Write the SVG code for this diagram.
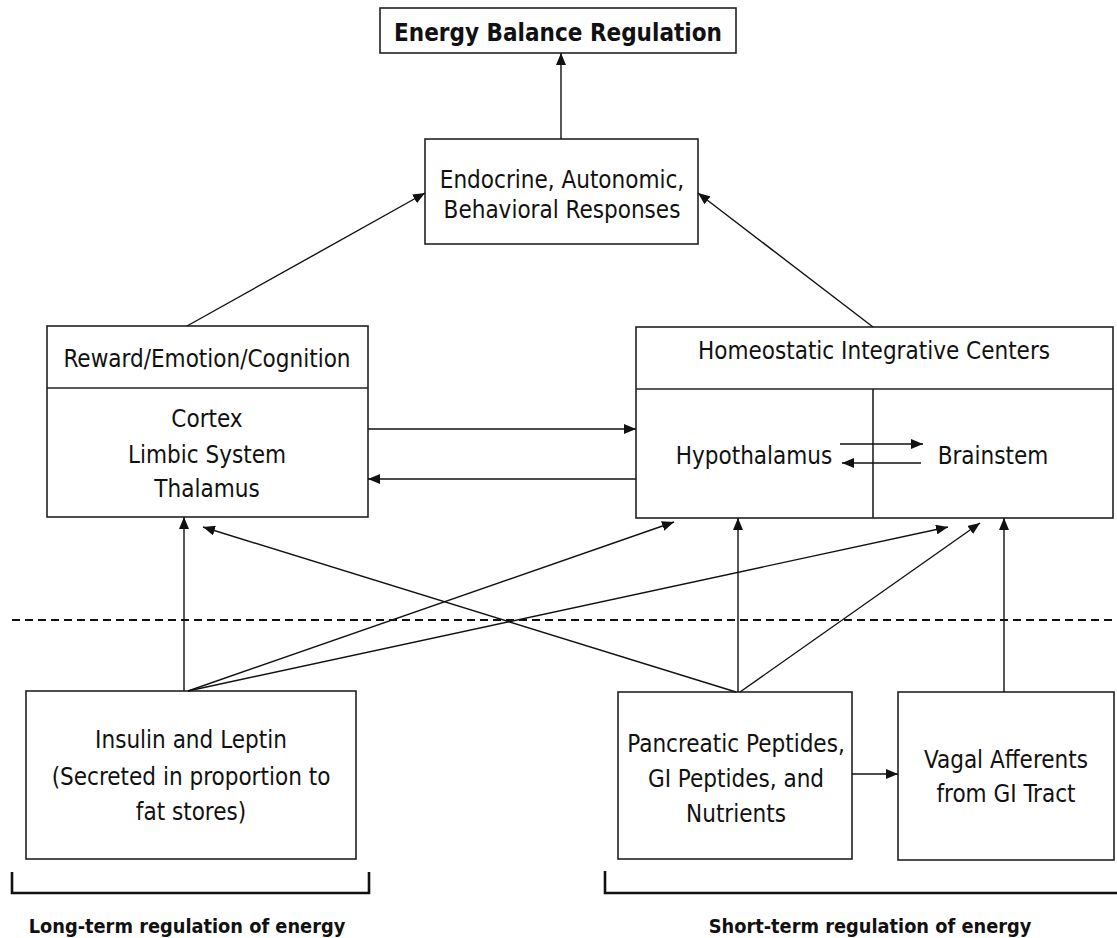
<svg xmlns="http://www.w3.org/2000/svg" width="1117" height="938" viewBox="0 0 1117 938">
<style>
.box{fill:#fff;stroke:#222;stroke-width:1.6}
.div{stroke:#222;stroke-width:1.6;fill:none}
.t{font-family:"DejaVu Sans Condensed","DejaVu Sans",Verdana,sans-serif;font-stretch:condensed;font-size:24px;fill:#111;text-anchor:middle}
.b{font-family:"DejaVu Sans Condensed","DejaVu Sans",Verdana,sans-serif;font-stretch:condensed;font-weight:bold;fill:#111;text-anchor:middle}
.c{stroke:#111;stroke-width:1.4;fill:none;marker-end:url(#ah)}
</style>
<defs>
<marker id="ah" markerUnits="userSpaceOnUse" markerWidth="12" markerHeight="10" refX="12" refY="5" orient="auto">
<path d="M0,0 L12,5 L0,10 z" fill="#111"/>
</marker>
</defs>
<rect width="1117" height="938" fill="#fff"/>

<g id="title">
<rect class="box" x="380" y="8" width="356" height="45"/>
<text class="b" x="558" y="41" font-size="24">Energy Balance Regulation</text>
</g>

<g id="responses">
<rect class="box" x="425" y="139" width="273" height="105"/>
<text class="t" x="562" y="188">Endocrine, Autonomic,</text>
<text class="t" x="562" y="218">Behavioral Responses</text>
</g>

<g id="reward">
<rect class="box" x="47" y="326" width="321" height="191"/>
<line class="div" x1="47" y1="388" x2="368" y2="388"/>
<text class="t" x="207" y="367">Reward/Emotion/Cognition</text>
<text class="t" x="207" y="427">Cortex</text>
<text class="t" x="207" y="463">Limbic System</text>
<text class="t" x="207" y="497">Thalamus</text>
</g>

<g id="homeostatic">
<rect class="box" x="636" y="327" width="477" height="191"/>
<line class="div" x1="636" y1="389" x2="1113" y2="389"/>
<line class="div" x1="873" y1="389" x2="873" y2="518"/>
<text class="t" x="874" y="359">Homeostatic Integrative Centers</text>
<text class="t" x="754" y="464">Hypothalamus</text>
<text class="t" x="993" y="464">Brainstem</text>
</g>

<g id="insulin">
<rect class="box" x="26" y="691" width="330" height="168"/>
<text class="t" x="191" y="748">Insulin and Leptin</text>
<text class="t" x="191" y="785">(Secreted in proportion to</text>
<text class="t" x="191" y="820">fat stores)</text>
</g>

<g id="pancreatic">
<rect class="box" x="618" y="692" width="234" height="167"/>
<text class="t" x="736" y="752">Pancreatic Peptides,</text>
<text class="t" x="736" y="787">GI Peptides, and</text>
<text class="t" x="736" y="822">Nutrients</text>
</g>

<g id="vagal">
<rect class="box" x="898" y="692" width="216" height="168"/>
<text class="t" x="1006" y="768">Vagal Afferents</text>
<text class="t" x="1006" y="802">from GI Tract</text>
</g>

<g id="connectors">
<line class="c" x1="561" y1="139" x2="561" y2="53"/>
<line class="c" x1="187" y1="326" x2="425" y2="193"/>
<line class="c" x1="873" y1="327" x2="698" y2="193"/>
<line class="c" x1="368" y1="429" x2="636" y2="429"/>
<line class="c" x1="636" y1="479" x2="368" y2="479"/>
<line class="c" x1="840" y1="444" x2="923" y2="444"/>
<line class="c" x1="921" y1="463" x2="842" y2="463"/>
<line class="c" x1="184" y1="691" x2="184" y2="517"/>
<line class="c" x1="188" y1="691" x2="674" y2="522"/>
<line class="c" x1="188" y1="691" x2="948" y2="527"/>
<line class="c" x1="736" y1="692" x2="203" y2="527"/>
<line class="c" x1="738" y1="692" x2="738" y2="518"/>
<line class="c" x1="740" y1="692" x2="980" y2="523"/>
<line class="c" x1="1004" y1="692" x2="1004" y2="518"/>
<line class="c" x1="852" y1="774" x2="898" y2="774"/>
</g>

<g id="divider">
<line x1="12" y1="620" x2="1117" y2="620" stroke="#111" stroke-width="2" stroke-dasharray="8,5"/>
</g>

<g id="long-term">
<path d="M12,872 V893 H369 V872" fill="none" stroke="#111" stroke-width="2.6"/>
<text class="b" x="187" y="933" font-size="19.8">Long-term regulation of energy</text>
</g>

<g id="short-term">
<path d="M605,871 V893 H1117" fill="none" stroke="#111" stroke-width="2.6"/>
<text class="b" x="870" y="933" font-size="19.8">Short-term regulation of energy</text>
</g>
</svg>
